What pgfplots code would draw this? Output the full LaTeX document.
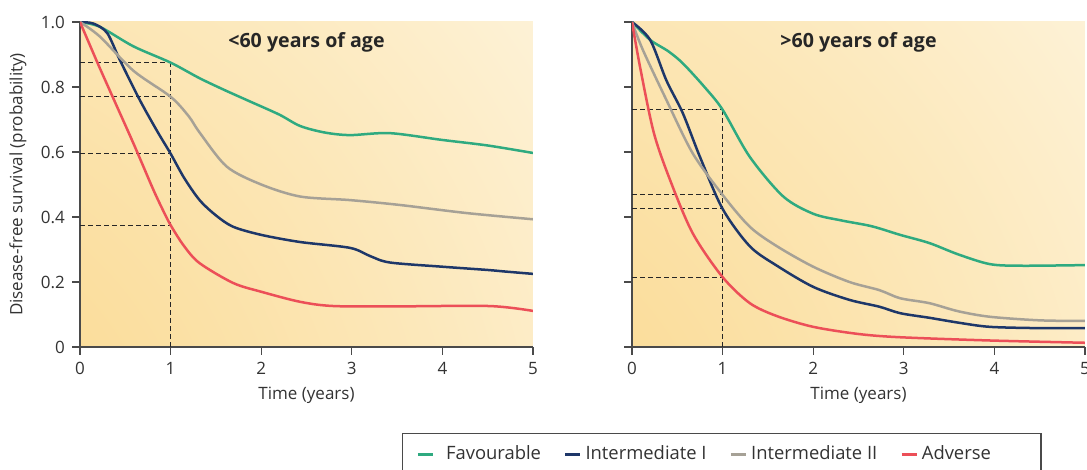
\documentclass[border=0pt]{standalone}
\usepackage{fontspec}
\setmainfont{Open Sans}
\usepackage{pgfplots}
\pgfplotsset{compat=1.18}

% risk-group colours
\definecolor{cFav}{HTML}{2FAA80}
\definecolor{cIntA}{HTML}{1E3769}
\definecolor{cIntB}{HTML}{A6A196}
\definecolor{cAdv}{HTML}{EC4F58}
\definecolor{axisgray}{HTML}{4A4A4A}

% panel background: warm at the lower-left corner, fading to near white
% towards the upper-right corner (elliptical distance from the origin)
\pgfdeclarefunctionalshading{survbg}{\pgfpoint{-50bp}{-50bp}}{\pgfpoint{50bp}{50bp}}{}{
  50 add 100 div 1.4 div dup mul
  exch 50 add 100 div dup mul add sqrt 1.229 div
  dup 1 gt {pop 1} if
  1.3 exp
  dup 0.020 mul 0.980 add exch
  dup 0.152 mul 0.843 add exch
  0.435 mul 0.540 add
}

\pgfplotsset{
  surv/.style={
    scale only axis, width=226.5pt, height=162.5pt,
    xmin=0, xmax=5, ymin=0, ymax=1,
    axis x line*=bottom, axis y line*=left,
    axis line style={-, draw=axisgray, line width=0.8pt},
    xtick={0,1,2,3,4,5}, xticklabels={0,1,2,3,4,5},
    ytick={0,0.2,0.4,0.6,0.8,1},
    tick style={draw=axisgray, line width=0.6pt},
    tick align=outside, major tick length=4pt,
    tick label style={font=\fontsize{8.5}{10}\selectfont, text=black!80},
    xlabel style={at={(axis description cs:0.5,-0.1477)}, anchor=center,
      font=\fontsize{8.5}{10}\selectfont, text=black!80},
    title style={at={(axis description cs:0.5,0.9016)}, anchor=center,
      font=\fontsize{9.8}{12}\selectfont\bfseries, text=black!85},
    xlabel={Time (years)},
    axis background/.style={shade, shading=survbg},
    every axis plot/.append style={line width=1.25pt, smooth},
  },
  guide/.style={draw=black!85, line width=0.6pt, dash pattern=on 2.5pt off 1.5pt,
    sharp plot, forget plot},
}

\begin{document}
\begin{tikzpicture}
\useasboundingbox (0,0) rectangle (543.5pt,235pt);

% ---------------- under 60 ----------------
\begin{axis}[surv, at={(40pt,61.5pt)}, anchor=south west,
  yticklabels={0,0.2,0.4,0.6,0.8,1.0},
  ylabel={Disease-free survival (probability)},
  ylabel style={at={(axis description cs:-0.1369,0.5)}, anchor=center,
    font=\fontsize{8.5}{10}\selectfont, text=black!80},
  title={<60 years of age}]
\addplot[guide] coordinates {(0,0.875) (1,0.875)};
\addplot[guide] coordinates {(0,0.77) (1,0.77)};
\addplot[guide] coordinates {(0,0.595) (1,0.595)};
\addplot[guide] coordinates {(0,0.375) (1,0.375)};
\addplot[guide] coordinates {(1,0) (1,0.875)};

\addplot[cFav] coordinates {
  (0,1) (0.22,0.985) (0.59,0.925) (1,0.875) (1.32,0.827) (1.6,0.79)
  (1.88,0.755) (2.2,0.715) (2.43,0.68) (2.7,0.66) (2.98,0.652)
  (3.42,0.658) (4,0.637) (4.5,0.62) (5,0.597)};
\addplot[cIntA] coordinates {
  (0,1) (0.15,0.995) (0.3,0.966) (0.44,0.883) (0.66,0.76) (0.85,0.665)
  (1,0.595) (1.15,0.52) (1.32,0.452) (1.5,0.405) (1.69,0.37) (2,0.345)
  (2.43,0.323) (2.98,0.305) (3.2,0.28) (3.42,0.26) (4,0.247) (4.5,0.237)
  (4.7,0.232) (5,0.225)};
\addplot[cIntB] coordinates {
  (0,1) (0.22,0.955) (0.59,0.85) (1,0.77) (1.2,0.71) (1.32,0.66)
  (1.62,0.555) (2,0.5) (2.43,0.463) (2.98,0.452) (3.53,0.437)
  (4.27,0.412) (5,0.393)};
\addplot[cAdv] coordinates {
  (0,1) (0.2,0.87) (0.4,0.745) (0.6,0.62) (0.8,0.49) (0.9,0.43) (1,0.375)
  (1.15,0.31) (1.32,0.258) (1.69,0.197) (2,0.17) (2.43,0.139) (2.8,0.126)
  (3.5,0.125) (4.52,0.126) (5,0.111)};
\end{axis}

% ---------------- over 60 ----------------
\begin{axis}[surv, at={(316pt,61.5pt)}, anchor=south west,
  yticklabels={},
  title={>60 years of age},
  legend columns=4,
  legend style={at={(-0.5078,-0.2646)}, anchor=north west,
    draw=axisgray, line width=0.6pt, fill=white,
    font=\fontsize{9.2}{11}\selectfont, text=black!80,
    inner xsep=7pt, inner ysep=4.2pt,
    /tikz/every even column/.append style={column sep=9.5pt}},
  legend image code/.code={\draw[#1, line width=1.25pt] (0pt,0pt) -- (7.5pt,0pt);}]
\addplot[guide] coordinates {(0,0.73) (1,0.73)};
\addplot[guide] coordinates {(0,0.468) (1,0.468)};
\addplot[guide] coordinates {(0,0.425) (1,0.425)};
\addplot[guide] coordinates {(0,0.215) (1,0.215)};
\addplot[guide] coordinates {(1,0) (1,0.73)};

\addplot[cFav] coordinates {
  (0,1) (0.2,0.945) (0.4,0.91) (0.56,0.873) (0.8,0.8) (1,0.73) (1.3,0.585)
  (1.67,0.463) (2,0.41) (2.3,0.39) (2.59,0.375) (2.73,0.365) (2.96,0.345)
  (3.28,0.32) (3.6,0.285) (3.95,0.255) (4.3,0.25) (5,0.252)};
\addplot[cIntA] coordinates {
  (0,1) (0.2,0.945) (0.38,0.82) (0.56,0.72) (0.75,0.585) (1,0.425)
  (1.3,0.31) (1.6,0.25) (2,0.185) (2.4,0.145) (2.73,0.124) (2.96,0.104)
  (3.28,0.09) (3.6,0.075) (3.95,0.062) (4.5,0.058) (5,0.058)};
\addplot[cIntB] coordinates {
  (0,1) (0.12,0.914) (0.38,0.76) (0.67,0.596) (1,0.468) (1.3,0.37)
  (1.6,0.31) (2,0.247) (2.4,0.2) (2.73,0.175) (2.96,0.15) (3.28,0.135)
  (3.6,0.11) (3.95,0.093) (4.5,0.082) (5,0.08)};
\addplot[cAdv] coordinates {
  (0,1) (0.09,0.86) (0.24,0.66) (0.42,0.514) (0.67,0.35) (1,0.215)
  (1.3,0.135) (1.6,0.095) (2,0.062) (2.5,0.04) (2.96,0.03) (3.95,0.02)
  (5,0.013)};
\legend{\hspace*{4pt}Favourable, Intermediate I, Intermediate II, Adverse\hspace*{16pt}\mbox{}}
\end{axis}
\end{tikzpicture}
\end{document}
